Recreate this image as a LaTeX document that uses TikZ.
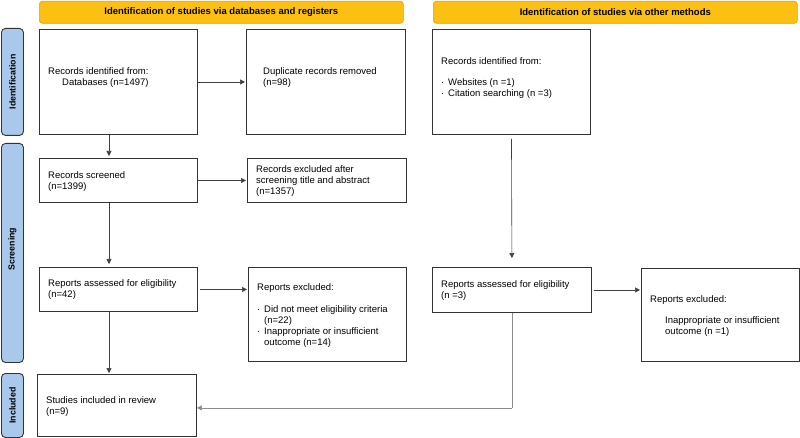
\documentclass[tikz,border=0pt]{standalone}
\usepackage{fontspec}
\setmainfont{Liberation Sans}
\usetikzlibrary{arrows.meta}
\definecolor{yfill}{HTML}{FCC012}
\definecolor{yborder}{HTML}{D9A20A}
\definecolor{bfill}{HTML}{A9C8EB}
\definecolor{edge}{HTML}{333333}
\begin{document}
\begin{tikzpicture}[x=1pt,y=-1pt,
  box/.style={draw=edge, line width=0.9pt, anchor=north west, inner sep=0pt},
  txt/.style={anchor=north west, align=left, inner sep=0pt, font=\fontsize{9.5}{11}\selectfont},
  hdr/.style={draw=yborder, fill=yfill, rounded corners=3pt, line width=0.6pt, anchor=north west, inner sep=0pt},
  hdrtxt/.style={font=\bfseries\fontsize{9.5}{11}\selectfont, inner sep=0pt},
  side/.style={draw=edge, fill=bfill, rounded corners=4pt, line width=0.9pt, anchor=north west, inner sep=0pt},
  sidetxt/.style={rotate=90, font=\bfseries\fontsize{8.8}{10}\selectfont, inner sep=0pt},
  arr/.style={-{Triangle[length=5pt,width=5pt]}, line width=0.6pt, draw=black!75},
  grayline/.style={line width=0.6pt, draw=black!45}]
\useasboundingbox (0,0) rectangle (800,438);
% headers
\node[hdr, minimum width=364pt, minimum height=22pt] (h1) at (39,1) {};
\node[hdrtxt] (h1t) at (h1.center) {Identification of studies via databases and registers};
\node[hdr, minimum width=364pt, minimum height=22pt] (h2) at (433,1) {};
\node[hdrtxt] (h2t) at (h2.center) {Identification of studies via other methods};
% side labels
\node[side, minimum width=22pt, minimum height=107pt] (s1) at (1,28) {};
\node[sidetxt] (s1t) at (s1.center) {Identification};
\node[side, minimum width=22pt, minimum height=219pt] (s2) at (1,143) {};
\node[sidetxt] (s2t) at ([yshift=4pt]s2.center) {Screening};
\node[side, minimum width=22pt, minimum height=64pt] (s3) at (1,373) {};
\node[sidetxt] (s3t) at (s3.center) {Included};
% boxes
\node[box, minimum width=158pt, minimum height=105pt] (rid1) at (39,29) {};
\node[box, minimum width=159pt, minimum height=105pt] (dup) at (246,29) {};
\node[box, minimum width=158pt, minimum height=44pt] (rs) at (39,158) {};
\node[box, minimum width=159pt, minimum height=44pt] (rex) at (247,158) {};
\node[box, minimum width=158pt, minimum height=44pt] (ra1) at (39,267) {};
\node[box, minimum width=158pt, minimum height=94pt] (rex1) at (248,267) {};
\node[box, minimum width=159pt, minimum height=62pt] (si) at (37,374) {};
\node[box, minimum width=158pt, minimum height=105pt] (rid2) at (432,29) {};
\node[box, minimum width=159pt, minimum height=45pt] (ra2) at (432,267) {};
\node[box, minimum width=158pt, minimum height=93pt] (rex2) at (641,268) {};
% texts
\node[txt] (t1) at (48,67) {Records identified from:\\\hspace{14pt}Databases (n=1497)};
\node[txt] (t2) at (263,67) {Duplicate records removed\\(n=98)};
\node[txt] (t3) at (48,171) {Records screened\\(n=1399)};
\node[txt] (t4) at (256,165) {Records excluded after\\screening title and abstract\\(n=1357)};
\node[txt] (t5) at (48,279) {Reports assessed for eligibility\\(n=42)};
\node[txt] (t6) at (257,283) {Reports excluded:\\[11pt]\makebox[7pt][l]{·}Did not meet eligibility criteria\\\hspace{7pt}(n=22)\\\makebox[7pt][l]{·}Inappropriate or insufficient\\\hspace{7pt}outcome (n=14)};
\node[txt] (t7) at (46,396) {Studies included in review\\(n=9)};
\node[txt] (t8) at (441,57) {Records identified from:\\[10pt]\makebox[7pt][l]{·}Websites (n =1)\\\makebox[7pt][l]{·}Citation searching (n =3)};
\node[txt] (t9) at (441,280) {Reports assessed for eligibility\\(n =3)};
\node[txt] (t10) at (650,295) {Reports excluded:\\[10pt]\hspace{15pt}Inappropriate or insufficient\\\hspace{15pt}outcome (n =1)};
% connectors
\coordinate (colL) at (109,0);
\draw[arr, shorten >=1pt] (rid1.east) -- (dup.west);
\draw[arr, shorten >=2pt] (rid1.south -| colL) -- (rs.north -| colL);
\draw[arr, shorten >=1pt] (rs.east) -- (rs.east -| rex.west);
\draw[arr, shorten >=3pt] (rs.south -| colL) -- (ra1.north -| colL);
\draw[arr, shorten <=2pt, shorten >=1pt] (ra1.east) -- (ra1.east -| rex1.west);
\draw[arr, shorten >=1pt] (ra1.south -| colL) -- (si.north -| colL);
\draw[arr, shorten <=4pt, shorten >=9pt] (rid2.south) -- (ra2.north);
\draw[arr, shorten <=2pt, shorten >=1pt] (ra2.east) -- (ra2.east -| rex2.west);
\coordinate (turn) at ([yshift=-95pt]ra2.south);
\draw[grayline] (ra2.south) -- (turn);
\draw[arr, draw=black!45] (turn) -- (turn -| si.east);
\end{tikzpicture}
\end{document}
